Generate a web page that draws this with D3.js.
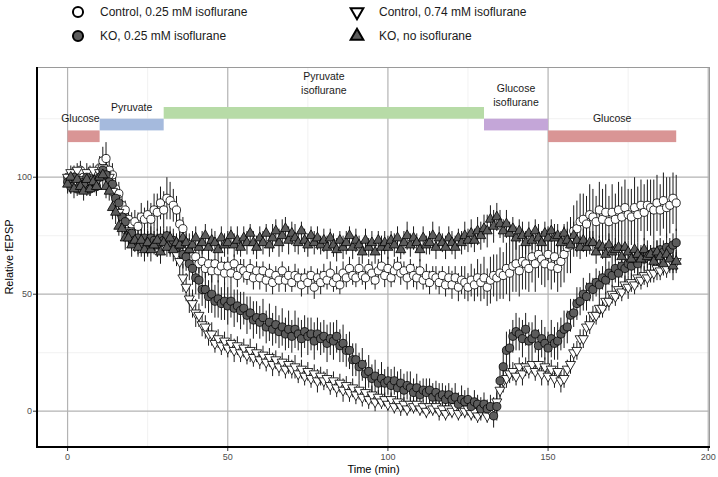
<!DOCTYPE html>
<html>
<head>
<meta charset="utf-8">
<script src="https://cdn.jsdelivr.net/npm/d3@7"></script>
<style>
  html, body { margin: 0; padding: 0; background: #fff; }
  svg { display: block; font-family: "Liberation Sans", Arial, sans-serif; }
</style>
</head>
<body>
<svg id="chart" width="718" height="477"></svg>
<script>
// ---------- DATA ----------
const time = d3.range(0, 191); // minutes, one sample per minute

const seriesNames = ["Control, 0.25 mM isoflurane", "Control, 0.74 mM isoflurane", "KO, 0.25 mM isoflurane", "KO, no isoflurane"];

const ctrl025 = [
 100,97,102,98,103,100,96,102,99,101,
 104,107,108,103,101,95,93,88,86,82,
 80,81,79,83,82,84,82,86,85,89,
 86,91,90,88,86,80,78,72,71,66,
 66,63,64,61,63,60,63,60,62,59,
 62,59,63,58,61,60,58,61,57,60,
 57,60,56,59,55,58,56,60,56,58,
 55,58,57,54,57,55,58,53,57,55,
 58,56,59,55,57,54,59,57,61,58,
 57,61,58,57,61,59,56,60,62,58,
 61,57,60,62,59,60,57,61,58,57,
 60,56,58,55,58,57,55,58,54,57,
 54,57,53,56,55,53,56,54,57,55,
 57,53,56,58,57,59,58,61,59,62,
 63,60,64,63,61,66,63,67,65,63,
 67,62,66,61,64,67,70,71,77,78,
 81,82,80,84,83,81,86,82,85,81,
 85,82,86,83,87,84,83,87,84,88,
 85,88,87,86,89,86,90,87,88,91,89];
const ctrl025Err = [
 3,4,3,3,4,3,4,3,3,4, 5,6,7,6,5,5,5,4,4,4, 5,5,6,6,5,6,7,7,8,7,
 8,9,8,7,6,6,5,5,5,5, 5,4,5,4,5,5,4,5,4,5, 4,5,4,5,4,5,4,4,5,4,
 5,4,5,4,5,4,5,4,5,4, 4,5,4,5,4,5,4,5,4,5, 5,4,5,4,5,4,5,4,5,4,
 4,5,4,5,4,5,4,5,4,5, 5,4,5,4,5,4,5,4,5,5, 5,4,5,5,4,5,5,4,5,5,
 6,5,6,6,7,6,7,7,8,8, 9,8,10,9,10,11,10,11,12,11, 12,11,12,11,10,11,12,10,11,10,
 11,10,11,10,11,12,11,12,11,12, 12,11,12,13,12,11,12,13,12,11, 12,11,12,13,12,11,12,13,12,11,
 12,11,12,13,12,11,12,13,12,11,12];

const ctrl074 = [
 100,102,98,103,99,97,102,100,103,98,
 102,104,101,100,94,91,85,83,77,77,
 73,74,71,74,70,73,72,74,70,73,
 72,73,70,71,67,64,57,53,48,46,
 42,41,37,36,33,33,29,31,28,30,
 27,29,26,28,25,27,24,26,23,25,
 22,24,21,23,20,22,19,21,18,20,
 18,19,16,18,15,17,14,16,13,15,
 13,14,11,13,10,12,9,11,8,10,
 7,9,6,8,5,7,4,6,4,5,
 3,5,2,4,2,3,1,3,2,3,
 1,2,0,2,1,2,0,1,-1,1,
 0,2,-1,1,0,1,-1,0,-2,0,
 1,-2,0,2,4,9,13,14,16,17,
 15,19,16,19,18,20,17,20,16,19,
 15,18,14,17,13,14,18,20,25,26,
 31,31,36,37,41,41,44,44,47,47,
 50,49,52,51,54,53,55,54,57,56,
 58,57,59,59,61,60,62,61,63,63,64];
const ctrl074Err = [
 3,3,4,3,3,3,4,3,3,3, 4,4,5,4,4,4,4,5,4,4, 4,4,4,5,4,4,4,5,4,4,
 4,4,4,5,5,6,6,6,6,6, 6,5,5,5,5,5,4,4,4,4, 4,4,5,4,4,4,4,5,4,4,
 4,4,4,4,5,4,4,4,4,4, 4,5,4,4,4,4,4,4,5,4, 4,4,4,4,4,4,5,4,4,4,
 4,4,4,4,4,4,4,3,3,3, 3,3,3,3,4,3,3,3,3,3, 3,3,3,3,3,3,4,3,3,3,
 3,3,3,3,3,3,3,3,3,3, 3,3,3,4,5,5,5,4,4,4, 4,4,5,4,4,4,4,4,5,4,
 4,4,4,4,5,4,4,4,4,4, 4,4,5,4,4,4,4,4,4,4, 4,4,4,4,4,5,4,4,4,4,
 4,4,4,4,5,4,4,4,4,4,4];

const ko025 = [
 98,96,100,95,98,97,100,95,99,96,
 100,103,101,98,97,91,89,83,81,76,
 76,73,74,71,74,72,74,73,71,74,
 73,75,72,73,70,71,67,66,63,61,
 57,56,52,52,49,50,47,48,46,47,
 45,47,44,45,43,44,41,42,39,40,
 38,40,36,38,35,37,34,36,33,35,
 32,35,33,31,34,32,33,30,33,31,
 32,29,31,30,32,28,29,26,26,22,
 22,19,20,16,17,14,15,12,14,12,
 13,11,13,10,12,9,11,10,8,10,
 7,9,8,9,6,8,6,7,5,7,
 5,6,3,5,4,5,2,4,3,1,
 3,1,2,-2,2,13,19,26,27,32,
 34,33,31,35,30,31,33,28,31,29,
 27,31,29,30,33,35,36,41,42,46,
 47,50,49,53,52,55,54,57,56,59,
 58,61,59,62,61,63,62,65,63,66,
 65,67,66,68,67,69,68,70,69,71,72];
const ko025Err = [
 3,3,4,3,3,4,3,3,4,3, 4,4,5,4,4,4,5,4,5,5, 5,4,5,5,4,5,5,4,5,5,
 5,4,5,5,5,6,6,6,7,7, 7,8,7,8,7,8,7,8,7,8, 8,7,8,7,8,7,8,7,8,7,
 7,8,7,8,7,8,7,8,7,8, 7,8,7,8,7,8,7,8,7,7, 7,8,7,8,7,7,8,7,8,7,
 7,6,7,6,7,6,7,6,7,6, 6,7,6,7,6,7,6,7,6,6, 6,5,6,5,6,5,6,5,6,5,
 5,6,5,6,5,5,4,5,4,5, 5,4,5,5,6,7,7,8,8,7, 8,7,8,7,8,7,8,7,8,7,
 7,8,7,8,7,8,7,7,6,7, 6,7,6,6,5,6,6,5,6,5, 5,6,5,5,6,5,5,6,5,5,
 5,6,5,5,6,5,5,6,5,5,6];

const koNone = [
 97,100,95,99,96,94,99,95,98,96,
 100,101,96,94,87,85,79,78,74,74,
 71,73,70,73,69,72,69,71,73,68,
 72,70,74,69,72,71,74,72,69,71,
 74,70,72,75,70,73,72,69,74,71,
 72,75,71,73,70,74,72,76,72,70,
 74,72,76,71,74,77,72,75,78,73,
 76,74,72,77,73,71,75,72,74,71,
 73,70,74,71,69,73,70,72,75,70,
 73,71,68,73,70,72,68,73,70,72,
 70,73,71,74,69,72,75,71,74,72,
 69,74,71,72,75,70,74,72,70,74,
 72,70,74,72,75,73,76,73,77,75,
 78,77,82,79,83,80,77,80,76,78,
 74,77,75,72,76,73,77,74,72,76,
 74,77,74,75,72,76,73,71,75,73,
 70,73,70,72,72,68,71,70,67,71,
 68,69,70,66,70,68,65,69,67,65,
 69,66,67,64,68,66,63,67,65,62,64];
const koNoneErr = [
 4,3,4,4,3,4,4,3,4,4, 4,5,5,4,5,5,4,5,5,4, 5,5,4,5,5,6,5,4,5,5,
 5,4,5,5,4,5,5,4,5,6, 5,4,5,5,4,5,5,4,5,5, 5,4,5,6,4,5,5,4,5,5,
 5,5,4,5,6,5,6,7,5,6, 5,6,5,4,5,5,4,5,5,4, 5,5,4,5,5,4,5,5,4,5,
 5,4,5,5,4,5,5,4,5,5, 5,4,5,5,4,5,6,5,5,4, 5,5,4,5,6,5,5,4,5,5,
 5,5,4,5,6,5,6,5,6,6, 6,7,6,7,6,6,5,6,5,5, 5,5,6,5,5,4,5,6,5,5,
 5,5,6,5,5,4,5,5,6,5, 5,5,4,5,5,5,4,5,5,5, 5,5,4,5,5,5,4,5,5,5,
 5,5,4,5,5,5,4,5,5,6,5];

// treatment periods (bars) and their labels
const periodNames = ["Glucose", "Pyruvate", "Pyruvate\nisoflurane", "Glucose\nisoflurane", "Glucose"];
const periodStart = [0, 10, 30, 130, 150];
const periodEnd   = [10, 30, 130, 150, 190];
const periodLow   = [115, 120, 125, 120, 115];
const periodHigh  = [120, 125, 130, 125, 120];
const labelX      = [4, 20, 80, 140, 170];
const labelY      = [125, 130, 140, 135, 125];
const periodColors = ["#d99595", "#a5badd", "#b7dba7", "#c4a6d8", "#d99595"];

const xTicks = [0, 50, 100, 150, 200];
const xMinor = [25, 75, 125, 175];
const yTicks = [0, 50, 100];
const yMinor = [25, 75, 125];

// ---------- LAYOUT ----------
const svg = d3.select("#chart");
const P = { left: 37, right: 710, top: 67, bottom: 447 };
const x = d3.scaleLinear().domain([-9.55, 200.55]).range([P.left, P.right]);
const y = d3.scaleLinear().domain([-15.3, 147.1]).range([P.bottom, P.top]);

// gridlines
const g = svg.append("g");
g.selectAll(".xmin").data(xMinor).join("line")
  .attr("x1", d => x(d)).attr("x2", d => x(d)).attr("y1", P.top).attr("y2", P.bottom)
  .attr("stroke", "#ebebeb").attr("stroke-width", 0.7);
g.selectAll(".ymin").data(yMinor).join("line")
  .attr("y1", d => y(d)).attr("y2", d => y(d)).attr("x1", P.left).attr("x2", P.right)
  .attr("stroke", "#ebebeb").attr("stroke-width", 0.7);
g.selectAll(".xmaj").data(xTicks).join("line")
  .attr("x1", d => x(d)).attr("x2", d => x(d)).attr("y1", P.top).attr("y2", P.bottom)
  .attr("stroke", "#b3b3b3").attr("stroke-width", 1.2);
g.selectAll(".ymaj").data(yTicks).join("line")
  .attr("y1", d => y(d)).attr("y2", d => y(d)).attr("x1", P.left).attr("x2", P.right)
  .attr("stroke", "#b3b3b3").attr("stroke-width", 1.2);

// panel border (top/right gray)
svg.append("line").attr("x1", P.left).attr("x2", P.right).attr("y1", P.top + 0.5).attr("y2", P.top + 0.5)
  .attr("stroke", "#9a9a9a").attr("stroke-width", 1);
svg.append("line").attr("x1", P.right - 0.5).attr("x2", P.right - 0.5).attr("y1", P.top).attr("y2", P.bottom)
  .attr("stroke", "#9a9a9a").attr("stroke-width", 1);

// period bars
const periods = periodNames.map((n, i) => ({ n, s: periodStart[i], e: periodEnd[i], lo: periodLow[i], hi: periodHigh[i], lx: labelX[i], ly: labelY[i], c: periodColors[i] }));
svg.append("g").selectAll("rect").data(periods).join("rect")
  .attr("x", d => x(d.s)).attr("width", d => x(d.e) - x(d.s))
  .attr("y", d => y(d.hi)).attr("height", d => y(d.lo) - y(d.hi))
  .attr("fill", d => d.c);
const lab = svg.append("g").selectAll("text").data(periods).join("text")
  .attr("x", d => x(d.lx)).attr("y", d => y(d.ly))
  .attr("text-anchor", "middle").attr("font-size", 10.5).attr("fill", "#1a1a1a");
lab.each(function(d) {
  const lines = d.n.split("\n");
  const t = d3.select(this);
  lines.forEach((ln, i) => {
    t.append("tspan").attr("x", x(d.lx))
      .attr("dy", i === 0 ? ((-(lines.length - 1) * 1.3) / 2 + 0.35) + "em" : "1.3em")
      .text(ln);
  });
});

// series
const series = [
  { name: seriesNames[0], v: ctrl025, e: ctrl025Err, shape: "circle", fill: "#ffffff" },
  { name: seriesNames[1], v: ctrl074, e: ctrl074Err, shape: "down", fill: "#ffffff" },
  { name: seriesNames[2], v: ko025, e: ko025Err, shape: "circle", fill: "#5c5c5c" },
  { name: seriesNames[3], v: koNone, e: koNoneErr, shape: "up", fill: "#5c5c5c" }
];
function symPath(shape, big) {
  if (shape === "circle") return d3.symbol(d3.symbolCircle, big ? 80 : 52)();
  return d3.symbol(d3.symbolTriangle, big ? 70 : 44)();
}

const eb = svg.append("g");
series.forEach(s => {
  eb.append("g").selectAll("line").data(time).join("line")
    .attr("x1", (t) => x(t)).attr("x2", (t) => x(t))
    .attr("y1", (t, i) => y(s.v[i] - s.e[i])).attr("y2", (t, i) => y(s.v[i] + s.e[i]))
    .attr("stroke", "#1a1a1a").attr("stroke-width", 1);
});
const pts = svg.append("g");
series.forEach(s => {
  pts.append("g").selectAll("path").data(time).join("path")
    .attr("d", symPath(s.shape, false))
    .attr("transform", (t, i) => `translate(${x(t)},${y(s.v[i])})` + (s.shape === "down" ? " rotate(180)" : ""))
    .attr("fill", s.fill).attr("stroke", "#000").attr("stroke-width", 0.8);
});

// axes lines
svg.append("line").attr("x1", P.left).attr("x2", P.left).attr("y1", P.top).attr("y2", P.bottom + 1)
  .attr("stroke", "#000").attr("stroke-width", 2);
svg.append("line").attr("x1", P.left - 1).attr("x2", P.right).attr("y1", P.bottom).attr("y2", P.bottom)
  .attr("stroke", "#000").attr("stroke-width", 2);

// ticks and labels
const xa = svg.append("g");
xa.selectAll("line").data(xTicks).join("line")
  .attr("x1", d => x(d)).attr("x2", d => x(d)).attr("y1", P.bottom + 1).attr("y2", P.bottom + 4)
  .attr("stroke", "#333").attr("stroke-width", 1);
xa.selectAll("text").data(xTicks).join("text")
  .attr("x", d => x(d)).attr("y", P.bottom + 13).attr("text-anchor", "middle")
  .attr("font-size", 9).attr("fill", "#4d4d4d").text(d => d);
const ya = svg.append("g");
ya.selectAll("line").data(yTicks).join("line")
  .attr("x1", P.left - 4).attr("x2", P.left - 1).attr("y1", d => y(d)).attr("y2", d => y(d))
  .attr("stroke", "#333").attr("stroke-width", 1);
ya.selectAll("text").data(yTicks).join("text")
  .attr("x", P.left - 5).attr("y", d => y(d) + 3.2).attr("text-anchor", "end")
  .attr("font-size", 9).attr("fill", "#4d4d4d").text(d => d);

svg.append("text").attr("x", (P.left + P.right) / 2).attr("y", 473).attr("text-anchor", "middle")
  .attr("font-size", 11).attr("fill", "#000").text("Time (min)");
svg.append("text").attr("transform", `translate(13,${(P.top + P.bottom) / 2}) rotate(-90)`)
  .attr("text-anchor", "middle").attr("font-size", 11).attr("fill", "#000").text("Relative fEPSP");

// legend
const legPos = [[78, 12], [357, 12], [78, 36], [357, 36]];
const leg = svg.append("g");
series.forEach((s, i) => {
  const [lx, ly] = legPos[i];
  leg.append("path").attr("d", symPath(s.shape, true))
    .attr("transform", `translate(${lx},${ly})` + (s.shape === "down" ? " rotate(180)" : ""))
    .attr("fill", s.fill).attr("stroke", "#000").attr("stroke-width", 2);
  leg.append("text").attr("x", lx + 22).attr("y", ly + 4.2).attr("font-size", 12).attr("fill", "#1a1a1a").text(s.name);
});
</script>
</body>
</html>
